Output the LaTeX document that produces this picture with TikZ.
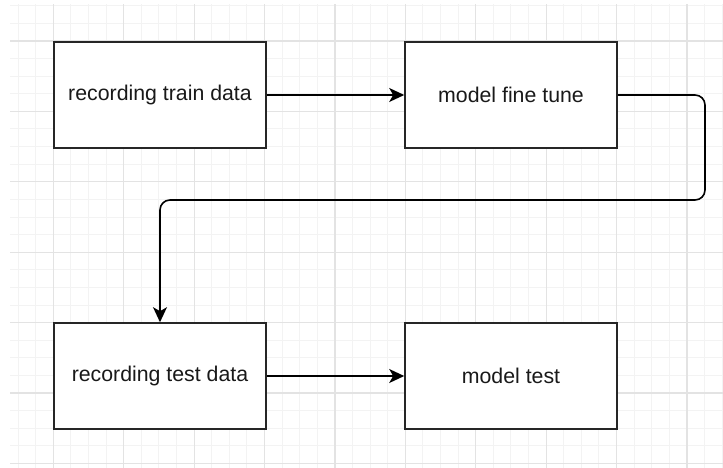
\documentclass[tikz,border=0pt]{standalone}
\usepackage{fontspec}
\setmainfont{Liberation Sans}
\usetikzlibrary{arrows.meta}
\tikzset{>={Stealth[length=15,width=14,inset=4]}}
\definecolor{minorgray}{HTML}{F3F3F3}
\definecolor{majorgray}{HTML}{E3E3E3}
\tikzset{
  stage/.style = {draw = black!85, line width = 1.6, fill = white,
                  minimum width = 212, minimum height = 106,
                  font = \fontsize{21.3}{25}\selectfont, text = black!90},
  flow/.style  = {->, line width = 1.6, black},
  minorline/.style = {minorgray, line width = 1},
  majorline/.style = {majorgray, line width = 1.2}
}

\begin{document}
\begin{tikzpicture}[x = 1pt, y = -1pt]
\useasboundingbox[fill = white] (0, 0) rectangle (723, 468);

% paper grid
\begin{scope}
\clip (10, 5) rectangle (723, 468);
\foreach \i in {-3,...,38}
  \draw[minorline] ({53.3 + 17.6*\i}, 0) -- ++(0, 468);
\foreach \j in {-3,...,25}
  \draw[minorline] (0, {41 + 17.6*\j}) -- ++(723, 0);
\foreach \i in {-1,...,10}
  \draw[majorline] ({53.3 + 70.4*\i}, 0) -- ++(0, 468);
\foreach \j in {-1,...,6}
  \draw[majorline] (0, {41 + 70.4*\j}) -- ++(723, 0);
\end{scope}

\node[stage] (trainrec) at (160, 95) {recording train data};
\node[stage] (finetune) at (511, 95) {model fine tune};
\node[stage] (testrec) at (160, 376) {recording test data};
\node[stage] (modeltest) at (511, 376) {model test};

\coordinate (turn) at (705, 200);

\draw[flow] (trainrec) -- (finetune);
\draw[flow, rounded corners = 10] (finetune.east) -| (turn) -| (testrec.north);
\draw[flow] (testrec) -- (modeltest);

\end{tikzpicture}
\end{document}
